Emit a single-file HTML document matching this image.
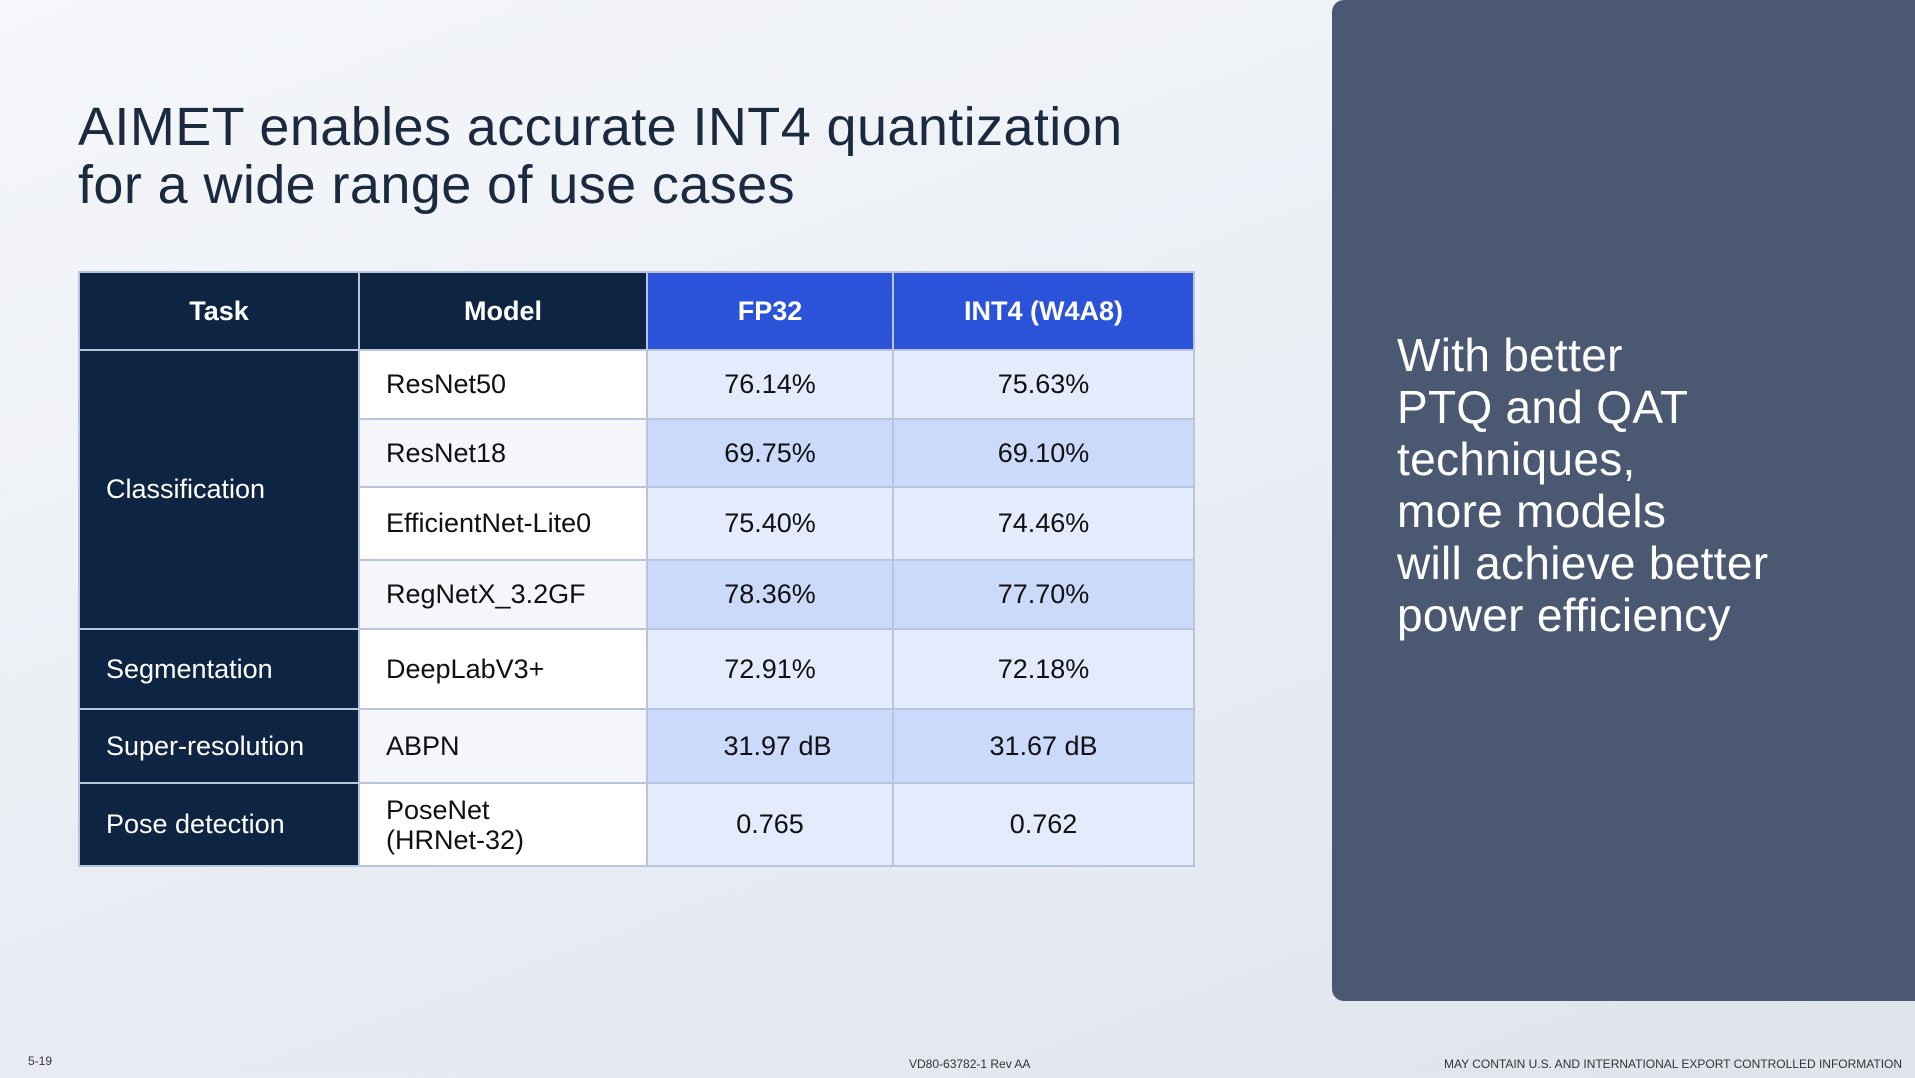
<!DOCTYPE html>
<html><head><meta charset="utf-8"><style>
body{margin:0;width:1915px;height:1078px;overflow:hidden;background:linear-gradient(160deg,#f5f7fa 0%,#e9edf3 55%,#dfe4ec 100%);font-family:"Liberation Sans",sans-serif;position:relative}
.title{position:absolute;left:78px;top:98px;font-size:54px;line-height:58px;color:#1c2a40;font-weight:300;letter-spacing:0.4px}
.panel{position:absolute;left:1332px;top:0;width:600px;height:1001px;background:#4a5971;border-radius:12px}
.ptext{position:absolute;left:1397px;top:329px;font-size:46px;line-height:52px;color:#fff;letter-spacing:0.3px}
table{position:absolute;left:78px;top:271px;border-collapse:collapse;font-size:27px;color:#111}
td,th{border:2px solid #b9c5dc;padding:0}
th{color:#fff;font-weight:bold;text-align:center;height:76px}
.dk{background:#0d2442;color:#fff}
.bl{background:#2b53da}
.task{padding-left:26px;text-align:left}
.model{padding-left:26px;text-align:left}
.v{text-align:center}
.l1{background:#e4ebfc}.l2{background:#cbd9fb}
.w1{background:#fff}.w2{background:#f4f6f9}
.foot{position:absolute;top:1057px;font-size:12px;color:#333}
</style></head><body>
<div class="title">AIMET enables accurate INT4 quantization<br>for a wide range of use cases</div>
<table>
<tr style="height:78px"><th class="dk" style="width:278px">Task</th><th class="dk" style="width:286px">Model</th><th class="bl" style="width:244px">FP32</th><th class="bl" style="width:299px">INT4 (W4A8)</th></tr>
<tr style="height:69px"><td class="dk task" rowspan="4">Classification</td><td class="model w1">ResNet50</td><td class="v l1">76.14%</td><td class="v l1">75.63%</td></tr>
<tr style="height:68px"><td class="model w2">ResNet18</td><td class="v l2">69.75%</td><td class="v l2">69.10%</td></tr>
<tr style="height:73px"><td class="model w1">EfficientNet-Lite0</td><td class="v l1">75.40%</td><td class="v l1">74.46%</td></tr>
<tr style="height:69px"><td class="model w2">RegNetX_3.2GF</td><td class="v l2">78.36%</td><td class="v l2">77.70%</td></tr>
<tr style="height:80px"><td class="dk task">Segmentation</td><td class="model w1">DeepLabV3+</td><td class="v l1">72.91%</td><td class="v l1">72.18%</td></tr>
<tr style="height:74px"><td class="dk task">Super-resolution</td><td class="model w2">ABPN</td><td class="v l2">&nbsp;&nbsp;31.97 dB</td><td class="v l2">31.67 dB</td></tr>
<tr style="height:83px"><td class="dk task">Pose detection</td><td class="model w1" style="line-height:30px">PoseNet<br>(HRNet-32)</td><td class="v l1">0.765</td><td class="v l1">0.762</td></tr>
</table>
<div class="panel"></div>
<div class="ptext">With better<br>PTQ and QAT<br>techniques,<br>more models<br>will achieve better<br>power efficiency</div>
<div class="foot" style="left:28px;top:1054px">5-19</div>
<div class="foot" style="left:909px">VD80-63782-1 Rev AA</div>
<div class="foot" style="left:1444px">MAY CONTAIN U.S. AND INTERNATIONAL EXPORT CONTROLLED INFORMATION</div>
</body></html>
